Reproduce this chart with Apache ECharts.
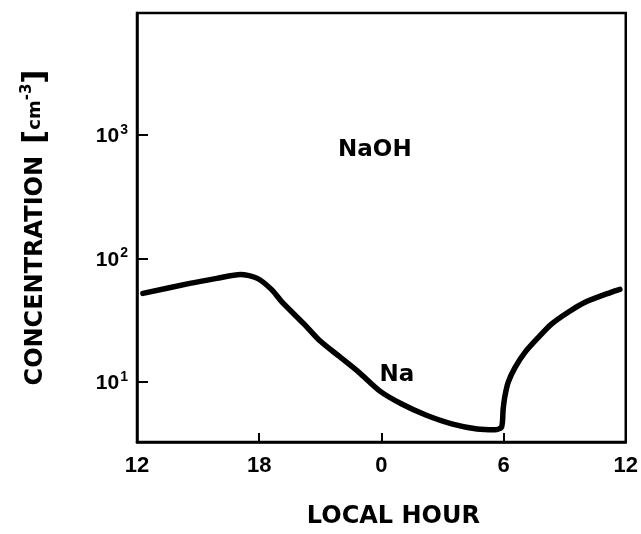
<!DOCTYPE html>
<html>
<head>
<meta charset="utf-8">
<script src="https://cdn.jsdelivr.net/npm/echarts@6/dist/echarts.min.js"></script>
<style>
html,body{margin:0;padding:0;background:#fff;}
#chart{width:641px;height:534px;}
</style>
</head>
<body>
<div id="chart"></div>
<script>
// Local hour (continuous, 12 -> 36 means noon to next noon)
const hours = [12.29, 14.59, 15.91, 17.08, 17.91, 18.60, 19.09, 20.21, 20.95, 21.92, 22.90, 23.93, 25.00, 26.18, 27.45, 28.70, 29.58, 29.90, 29.98, 30.07, 30.23, 30.56, 31.05, 31.70, 32.35, 33.17, 34.00, 35.27, 35.71];
// Na concentration [cm^-3]
const naValues = [52.2, 62.8, 69.0, 74.3, 69.0, 56.2, 45.0, 29.4, 21.8, 16.2, 12.0, 8.46, 6.65, 5.42, 4.60, 4.18, 4.12, 4.32, 6.06, 7.76, 10.0, 13.1, 17.4, 22.9, 29.4, 36.7, 44.2, 53.2, 56.2];
// x tick values and their labels
const xTicks = [12, 18, 24, 30, 36];
const xTickLabels = ['12', '18', '0', '6', '12'];
// in-plot labels
const annotNames = ['NaOH', 'Na'];
const annotHours = [23.68, 24.76];
const annotValues = [757, 11.4];

const chart = echarts.init(document.getElementById('chart'), null, {renderer: 'canvas'});
const FONT = '"DejaVu Sans", sans-serif';
const NARROW = '"Liberation Sans Narrow", "Liberation Sans", sans-serif';

chart.setOption({
  animation: false,
  backgroundColor: '#fff',
  grid: {left: 137, right: 13, top: 13, bottom: 91, show: true, borderColor: '#000', borderWidth: 2.5, containLabel: false},
  xAxis: {
    type: 'value', min: 12, max: 36, interval: 6,
    axisLine: {show: true, lineStyle: {color: '#000', width: 2.5}},
    axisTick: {show: true, inside: true, length: 9, lineStyle: {color: '#000', width: 2}},
    splitLine: {show: false},
    axisLabel: {
      color: '#000', fontFamily: NARROW, fontWeight: 'bold', fontSize: 22, margin: 13,
      formatter: function (v) { const i = xTicks.indexOf(v); return i >= 0 ? xTickLabels[i] : ''; }
    },
    name: 'LOCAL HOUR', nameLocation: 'middle', nameGap: 63,
    nameTextStyle: {color: '#000', fontFamily: FONT, fontWeight: 'bold', fontSize: 24, padding: [0, 0, 0, 24]}
  },
  yAxis: {
    type: 'log', logBase: 10, min: 3.28, max: 9640,
    axisLine: {show: true, lineStyle: {color: '#000', width: 2.5}},
    axisTick: {show: true, inside: true, length: 11, lineStyle: {color: '#000', width: 2}},
    minorTick: {show: false},
    splitLine: {show: false},
    axisLabel: {
      margin: 9,
      showMinLabel: false, showMaxLabel: false,
      formatter: function (v) {
        const e = Math.log10(v);
        const n = Math.round(e);
        if (Math.abs(e - n) > 1e-6) return '';
        return '{b|10}{s|' + n + '}';
      },
      rich: {
        b: {color: '#000', fontFamily: NARROW, fontWeight: 'bold', fontSize: 21, verticalAlign: 'bottom'},
        s: {color: '#000', fontFamily: NARROW, fontWeight: 'bold', fontSize: 14, verticalAlign: 'top', padding: [0, 0, 10, 1]}
      }
    },
    name: '{t|CONCENTRATION}{g| }{br|[}{u|cm}{s|-3}{br|]}',
    nameLocation: 'middle', nameGap: 86, nameRotate: 90,
    nameTextStyle: {
      rich: {
        t: {color: '#000', fontFamily: FONT, fontWeight: 'bold', fontSize: 24},
        g: {fontSize: 22, width: 12},
        br: {color: '#000', fontFamily: FONT, fontWeight: 'bold', fontSize: 31},
        u: {color: '#000', fontFamily: FONT, fontWeight: 'bold', fontSize: 18},
        s: {color: '#000', fontFamily: FONT, fontWeight: 'bold', fontSize: 15, verticalAlign: 'top', padding: [0, 0, 12, 0]}
      }
    }
  },
  series: [
    {
      type: 'line', name: 'Na',
      data: hours.map((h, i) => [h, naValues[i]]),
      showSymbol: false, smooth: 0.25,
      lineStyle: {color: '#000', width: 5.5, cap: 'round', join: 'round'},
      z: 3
    },
    {
      type: 'scatter', name: 'labels',
      data: annotNames.map((n, i) => ({name: n, value: [annotHours[i], annotValues[i]]})),
      symbolSize: 1,
      itemStyle: {color: 'rgba(0,0,0,0)'},
      label: {show: true, position: 'inside', formatter: '{b}', color: '#000', textBorderWidth: 0, opacity: 1, fontFamily: FONT, fontWeight: 'bold', fontSize: 23},
      z: 4
    }
  ]
});
</script>
</body>
</html>
